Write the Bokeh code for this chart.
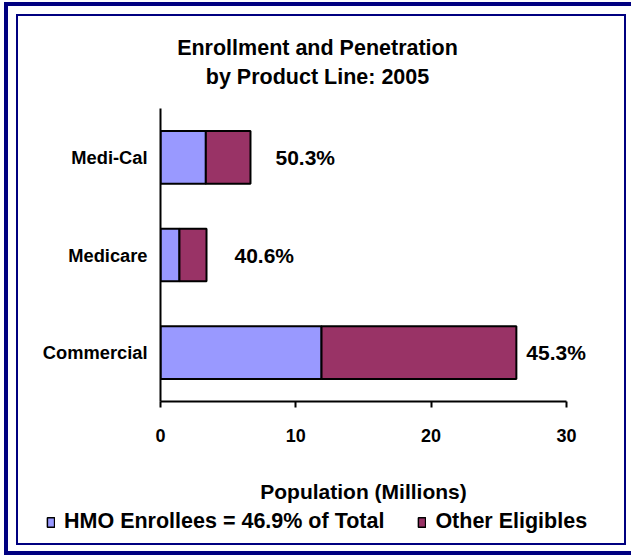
from bokeh.plotting import figure
from bokeh.layouts import column
from bokeh.models import (FactorRange, Range1d, Label, LabelSet, ColumnDataSource,
                          FixedTicker, Legend, LegendItem)
from bokeh.core.properties import value
from bokeh.embed import file_html
from bokeh.resources import INLINE

# ---- data ----
categories = ["Commercial", "Medicare", "Medi-Cal"]
hmo_enrollees = [11.9, 1.4, 3.35]          # millions
other_eligibles = [14.4, 2.0, 3.3]         # millions
penetration = ["45.3%", "40.6%", "50.3%"]
x_ticks = [0, 10, 20, 30]
title_lines = ["Enrollment and Penetration", "by Product Line: 2005"]
legend_labels = ["HMO Enrollees = 46.9% of Total", "Other Eligibles"]
x_label = "Population (Millions)"

# ---- style ----
FONT = "Liberation Sans"
HMO_COLOR = "#9999FF"
OTHER_COLOR = "#993366"
NAVY = "#000080"
label_offsets = [10, 28, 25]   # px gap between bar end and penetration label
W = 606

total = [a + b for a, b in zip(hmo_enrollees, other_eligibles)]
src = ColumnDataSource(dict(cat=categories, hmo=hmo_enrollees, other=other_eligibles,
                            total=total, pct=penetration, off=label_offsets,
                            zero=[0] * len(categories)))


def blank(h):
    f = figure(width=W, height=h, output_backend="svg", toolbar_location=None,
               x_axis_type=None, y_axis_type=None, min_border=0,
               x_range=Range1d(0, 1), y_range=Range1d(0, 1))
    f.frame_align = False
    f.outline_line_color = None
    f.grid.visible = False
    return f


# ---- title strip ----
TH = 84
pt = blank(TH)
for txt, y_from_top in zip(title_lines, [31, 60]):
    pt.add_layout(Label(x=299, y=TH - y_from_top, x_units="screen", y_units="screen",
                        text=txt, text_font=FONT, text_font_size="21.5px",
                        text_font_style="bold", text_align="center",
                        text_baseline="middle", text_color="black"))

# ---- main chart ----
MH = 370
p = figure(width=W, height=MH, y_range=FactorRange(*categories), x_range=Range1d(0, 32.37),
           output_backend="svg", toolbar_location=None,
           min_border_left=142, min_border_right=26, min_border_top=8, min_border_bottom=69)
p.frame_align = False
p.outline_line_color = None
p.grid.grid_line_color = None

r1 = p.hbar(y="cat", left="zero", right="hmo", height=0.54, source=src,
            fill_color=HMO_COLOR, line_color="black", line_width=2)
r2 = p.hbar(y="cat", left="hmo", right="total", height=0.54, source=src,
            fill_color=OTHER_COLOR, line_color="black", line_width=2)

p.add_layout(LabelSet(x="total", y="cat", text="pct", x_offset="off", source=src,
                      text_font=value(FONT), text_font_size="21px", text_font_style="bold",
                      text_baseline="middle", text_align="left", text_color="black"))

xa = p.xaxis[0]
xa.bounds = (x_ticks[0], x_ticks[-1])
xa.ticker = FixedTicker(ticks=x_ticks)
xa.axis_line_width = 2
xa.axis_line_color = "black"
xa.major_tick_line_width = 2
xa.major_tick_out = 6
xa.major_tick_in = 0
xa.minor_tick_out = 0
xa.minor_tick_in = 0
xa.major_label_text_font = FONT
xa.major_label_text_font_size = "18px"
xa.major_label_text_font_style = "bold"
xa.major_label_text_color = "black"
xa.major_label_standoff = 21

ya = p.yaxis[0]
ya.axis_line_width = 2
ya.axis_line_color = "black"
ya.major_tick_out = 0
ya.major_tick_in = 0
ya.minor_tick_out = 0
ya.major_label_text_font = FONT
ya.major_label_text_font_size = "18.3px"
ya.major_label_text_font_style = "bold"
ya.major_label_text_color = "black"
ya.major_label_standoff = 13

# ---- axis title + legend strip ----
LH = 73
pl = blank(LH)
# axis title, centred under the 0-30 axis span
pl.add_layout(Label(x=345, y=LH - 21, x_units="screen", y_units="screen",
                    text=x_label, text_font=FONT, text_font_size="21px",
                    text_font_style="bold", text_align="center",
                    text_baseline="middle", text_color="black"))
# swatch-only renderers, kept outside the visible range of the strip
e = ColumnDataSource(dict(y=[-9], l=[0], r=[0]))
g1 = pl.hbar(y="y", left="l", right="r", height=1, source=e,
             fill_color=HMO_COLOR, line_color="black", line_width=1.5)
g2 = pl.hbar(y="y", left="l", right="r", height=1, source=e,
             fill_color=OTHER_COLOR, line_color="black", line_width=1.5)
legend = Legend(items=[LegendItem(label=legend_labels[0], renderers=[g1]),
                       LegendItem(label=legend_labels[1], renderers=[g2])],
                orientation="horizontal", location=(28, 9),
                glyph_width=9, glyph_height=12, label_standoff=9, spacing=33,
                padding=0, margin=0, border_line_color=None, background_fill_alpha=0,
                label_text_font=FONT, label_text_font_size="21.5px",
                label_text_font_style="bold", label_text_color="black")
pl.add_layout(legend, "center")

inner = column(pt, p, pl, spacing=0,
               styles={"border": f"2px solid {NAVY}"})
outer = column(inner, spacing=0,
               styles={"margin-left": "4px", "margin-top": "2px",
                       "border-left": f"4px solid {NAVY}", "border-top": f"4px solid {NAVY}",
                       "border-bottom": f"4px solid {NAVY}",
                       "padding": "8px 5px 6px 8px"})

open("out.html", "w").write(file_html(outer, INLINE))
